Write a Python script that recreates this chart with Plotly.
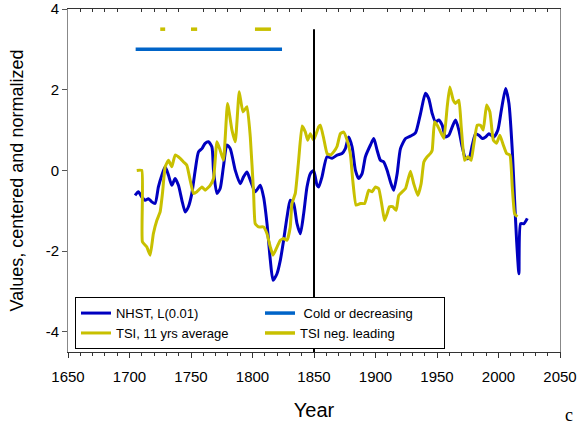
import plotly.graph_objects as go

# ---- data ----
nhst_year = [1704.5, 1707.2, 1710.0, 1712.7, 1715.4, 1718.1, 1720.8, 1723.5, 1726.3, 1729.0,
             1731.7, 1734.4, 1737.1, 1739.8, 1742.6, 1745.3, 1747.9, 1750.7, 1753.4, 1756.1,
             1758.9, 1761.5, 1764.2, 1767.0, 1768.3, 1771.1, 1773.7, 1776.4, 1779.2, 1781.9,
             1786.0, 1790.0, 1792.7, 1795.5, 1798.2, 1802.2, 1806.3, 1809.0, 1811.8, 1814.5,
             1816.7, 1819.9, 1822.6, 1825.3, 1828.1, 1830.7, 1833.4, 1836.2, 1838.9, 1841.6,
             1844.3, 1847.0, 1849.7, 1852.5, 1853.8, 1856.5, 1860.6, 1864.7, 1868.8, 1872.8,
             1875.5, 1878.2, 1881.0, 1883.7, 1886.3, 1889.1, 1891.8, 1895.9, 1898.6, 1901.3,
             1904.0, 1906.7, 1909.5, 1912.2, 1914.8, 1917.6, 1920.3, 1924.4, 1928.4, 1932.5,
             1936.6, 1940.6, 1943.3, 1946.1, 1948.8, 1951.5, 1954.2, 1956.9, 1959.6, 1962.4,
             1965.1, 1967.8, 1970.5, 1973.2, 1976.0, 1978.7, 1981.4, 1984.0, 1986.8, 1989.5,
             1992.2, 1996.3, 1999.5, 2002.3, 2005.8, 2008.5, 2011.2, 2013.1, 2014.7, 2016.6,
             2018.0, 2020.7, 2023.4]
nhst_val = [-0.62, -0.53, -0.66, -0.74, -0.70, -0.78, -0.82, -0.41, -0.12, 0.09,
            -0.12, -0.37, -0.20, -0.37, -0.74, -1.03, -0.90, -0.57, 0.00, 0.46,
            0.54, 0.67, 0.71, 0.58, 0.00, -0.57, -0.45, 0.10, 0.63, 0.54,
            0.00, -0.33, -0.16, -0.04, -0.24, -0.53, -0.37, -0.66, -1.32, -2.23,
            -2.72, -2.56, -2.23, -1.73, -1.15, -0.74, -0.82, -1.32, -1.57, -1.07,
            -0.41, -0.08, 0.00, -0.37, -0.41, -0.16, 0.34, 0.30, 0.38, 0.42,
            0.54, 0.83, 0.58, 0.00, -0.20, -0.08, 0.34, 0.63, 0.79, 0.50,
            0.25, 0.21, 0.00, -0.29, -0.49, -0.08, 0.54, 0.79, 0.85, 0.93,
            1.41, 1.91, 1.78, 1.41, 1.20, 1.25, 1.12, 0.83, 0.87, 1.08,
            1.25, 1.00, 0.58, 0.30, 0.30, 0.63, 0.91, 0.87, 0.79, 0.83,
            0.91, 0.83, 1.00, 1.49, 2.03, 1.66, 0.50, -0.74, -1.73, -2.56,
            -1.32, -1.32, -1.19]

tsi_year = [1705.9, 1710.0, 1710.5, 1714.1, 1716.8, 1719.4, 1722.2, 1724.9, 1726.8, 1729.0,
            1731.7, 1734.4, 1737.1, 1741.2, 1743.9, 1746.6, 1749.3, 1752.0, 1754.8, 1758.9,
            1761.5, 1765.6, 1768.3, 1771.1, 1773.7, 1776.4, 1779.7, 1783.3, 1786.0, 1789.2,
            1792.2, 1795.5, 1798.2, 1800.9, 1802.2, 1804.9, 1809.0, 1811.8, 1814.5, 1816.7,
            1819.9, 1822.6, 1825.3, 1828.1, 1830.7, 1832.1, 1834.8, 1837.5, 1840.3, 1843.0,
            1844.8, 1847.0, 1849.7, 1853.8, 1855.2, 1857.9, 1860.6, 1863.3, 1866.0, 1868.8,
            1871.4, 1874.1, 1876.9, 1879.6, 1881.5, 1884.2, 1887.7, 1891.2, 1894.5, 1897.2,
            1899.9, 1902.6, 1905.4, 1907.3, 1909.5, 1911.3, 1914.0, 1916.8, 1918.9, 1921.7,
            1924.4, 1928.4, 1931.1, 1934.4, 1937.1, 1939.3, 1942.0, 1944.7, 1946.1, 1948.0,
            1950.2, 1952.9, 1955.6, 1958.3, 1960.4, 1963.2, 1965.1, 1967.8, 1969.7, 1972.4,
            1975.1, 1977.8, 1980.0, 1982.7, 1985.4, 1987.6, 1990.3, 1993.0, 1995.8, 1998.4,
            2001.1, 2003.9, 2006.6, 2009.3, 2011.2, 2013.1, 2015.3]
tsi_val = [0.00, 0.00, -1.77, -1.90, -2.10, -1.57, -1.24, -1.03, -0.57, 0.09,
           0.25, 0.09, 0.38, 0.30, 0.21, 0.13, -0.24, -0.57, -0.53, -0.41,
           -0.49, -0.37, -0.20, 0.71, 0.50, 0.25, 1.66, 1.00, 0.71, 1.95,
           1.45, 1.58, 0.83, -0.57, -1.32, -1.40, -1.40, -1.57, -1.90, -2.10,
           -1.90, -1.73, -1.69, -1.73, -1.40, -0.82, -0.57, 0.25, 1.10, 0.95,
           0.75, 0.91, 0.75, 1.08, 1.12, 0.79, 0.42, 0.38, 0.46, 0.60,
           0.91, 0.95, 0.75, 0.40, -0.24, -0.86, -0.82, -0.82, -0.49, -0.53,
           -0.41, -0.45, -0.90, -1.24, -1.07, -0.90, -0.90, -0.99, -0.62, -0.53,
           -0.45, -0.02, -0.33, -0.62, -0.33, 0.21, 0.34, 0.42, 0.50, 1.20,
           1.12, 0.95, 0.79, 1.58, 2.07, 1.74, 1.66, 1.74, 1.08, 0.25,
           0.34, 0.25, 0.67, 1.12, 1.12, 1.00, 1.62, 1.45, 0.75, 0.67,
           0.87, 0.63, 0.42, 0.38, -0.41, -1.07, -1.15]

cold_year = [1705, 1824]
cold_level = 3.0
lead_periods = [(1725, 1729), (1750, 1755), (1802, 1815)]
lead_level = 3.5
divider_year = 1850
divider_span = [-4.5, 3.5]

y_ticks = [-4, -2, 0, 2, 4]
y_ticklabels = ["-4", "-2", "0", "2", "4"]
x_ticks = [1650, 1700, 1750, 1800, 1850, 1900, 1950, 2000, 2050]

# ---- colours ----
C_NHST = "#0000C0"
C_TSI = "#C8C000"
C_COLD = "#0064C8"

lead_x, lead_y = [], []
for a, b in lead_periods:
    lead_x += [a, b, None]
    lead_y += [lead_level, lead_level, None]

fig = go.Figure()
fig.add_trace(go.Scatter(x=nhst_year, y=nhst_val, mode="lines", name="NHST, L(0.01)",
                         line=dict(color=C_NHST, width=3, shape="spline", smoothing=0.6)))
fig.add_trace(go.Scatter(x=cold_year, y=[cold_level] * len(cold_year), mode="lines",
                         name=" Cold or decreasing", line=dict(color=C_COLD, width=3.5)))
fig.add_trace(go.Scatter(x=tsi_year, y=tsi_val, mode="lines", name="TSI, 11 yrs average",
                         line=dict(color=C_TSI, width=3, shape="spline", smoothing=0.4)))
fig.add_trace(go.Scatter(x=lead_x, y=lead_y, mode="lines", name="TSI neg. leading",
                         line=dict(color=C_TSI, width=3.5)))
fig.add_trace(go.Scatter(x=[divider_year, divider_year], y=divider_span, mode="lines",
                         showlegend=False, line=dict(color="black", width=2)))
# helper for top axis minor ticks
top_ticks = [v for v in range(1660, 2050, 10) if v % 50 != 0]
fig.add_trace(go.Scatter(x=[1650, 2050], y=[None, None], xaxis="x2", showlegend=False,
                         hoverinfo="skip", mode="lines"))

font = "Liberation Sans, Arial, sans-serif"
fig.update_layout(
    width=581, height=424,
    margin=dict(l=68, r=21, t=9, b=72, autoexpand=False),
    paper_bgcolor="white", plot_bgcolor="white",
    font=dict(family=font, color="black"),
    showlegend=True,
    legend=dict(orientation="h", x=0.0142, y=0.16, xanchor="left", yanchor="top",
                entrywidth=139, entrywidthmode="pixels",
                bordercolor="black", borderwidth=1, bgcolor="white",
                font=dict(size=13, family=font), tracegroupgap=0,
                itemwidth=30),
    xaxis=dict(range=[1650, 2050], tickvals=x_ticks, ticks="outside", ticklen=5,
               tickcolor="#333", showline=True, linecolor="#333", linewidth=1,
               mirror=True, showgrid=False, zeroline=False, automargin=False,
               tickfont=dict(size=15), ticklabelstandoff=6,
               minor=dict(dtick=10, tick0=1650, ticks="outside", ticklen=3, tickcolor="#333"),
               title=dict(text="Year", font=dict(size=20), standoff=18)),
    xaxis2=dict(range=[1650, 2050], overlaying="x", side="top", tickvals=top_ticks,
                ticks="inside", ticklen=3, tickcolor="#333", showticklabels=False,
                showline=False, showgrid=False, zeroline=False, automargin=False),
    yaxis=dict(range=[-4.5, 4], tickvals=y_ticks, ticktext=y_ticklabels, ticks="outside",
               ticklen=5, tickcolor="#555", showline=True, linecolor="#888", linewidth=1,
               mirror=True, showgrid=False, zeroline=False, automargin=False,
               tickfont=dict(size=15),
               title=dict(text="Values, centered and normalized", font=dict(size=18),
                          standoff=17)),
    annotations=[dict(text="c", xref="paper", yref="paper", x=1.0, y=-0.184,
                      xanchor="left", yanchor="middle", showarrow=False,
                      xshift=3, font=dict(family="Liberation Serif, Times New Roman, serif",
                                          size=18, color="black"))],
)

fig.write_html("out.html")
